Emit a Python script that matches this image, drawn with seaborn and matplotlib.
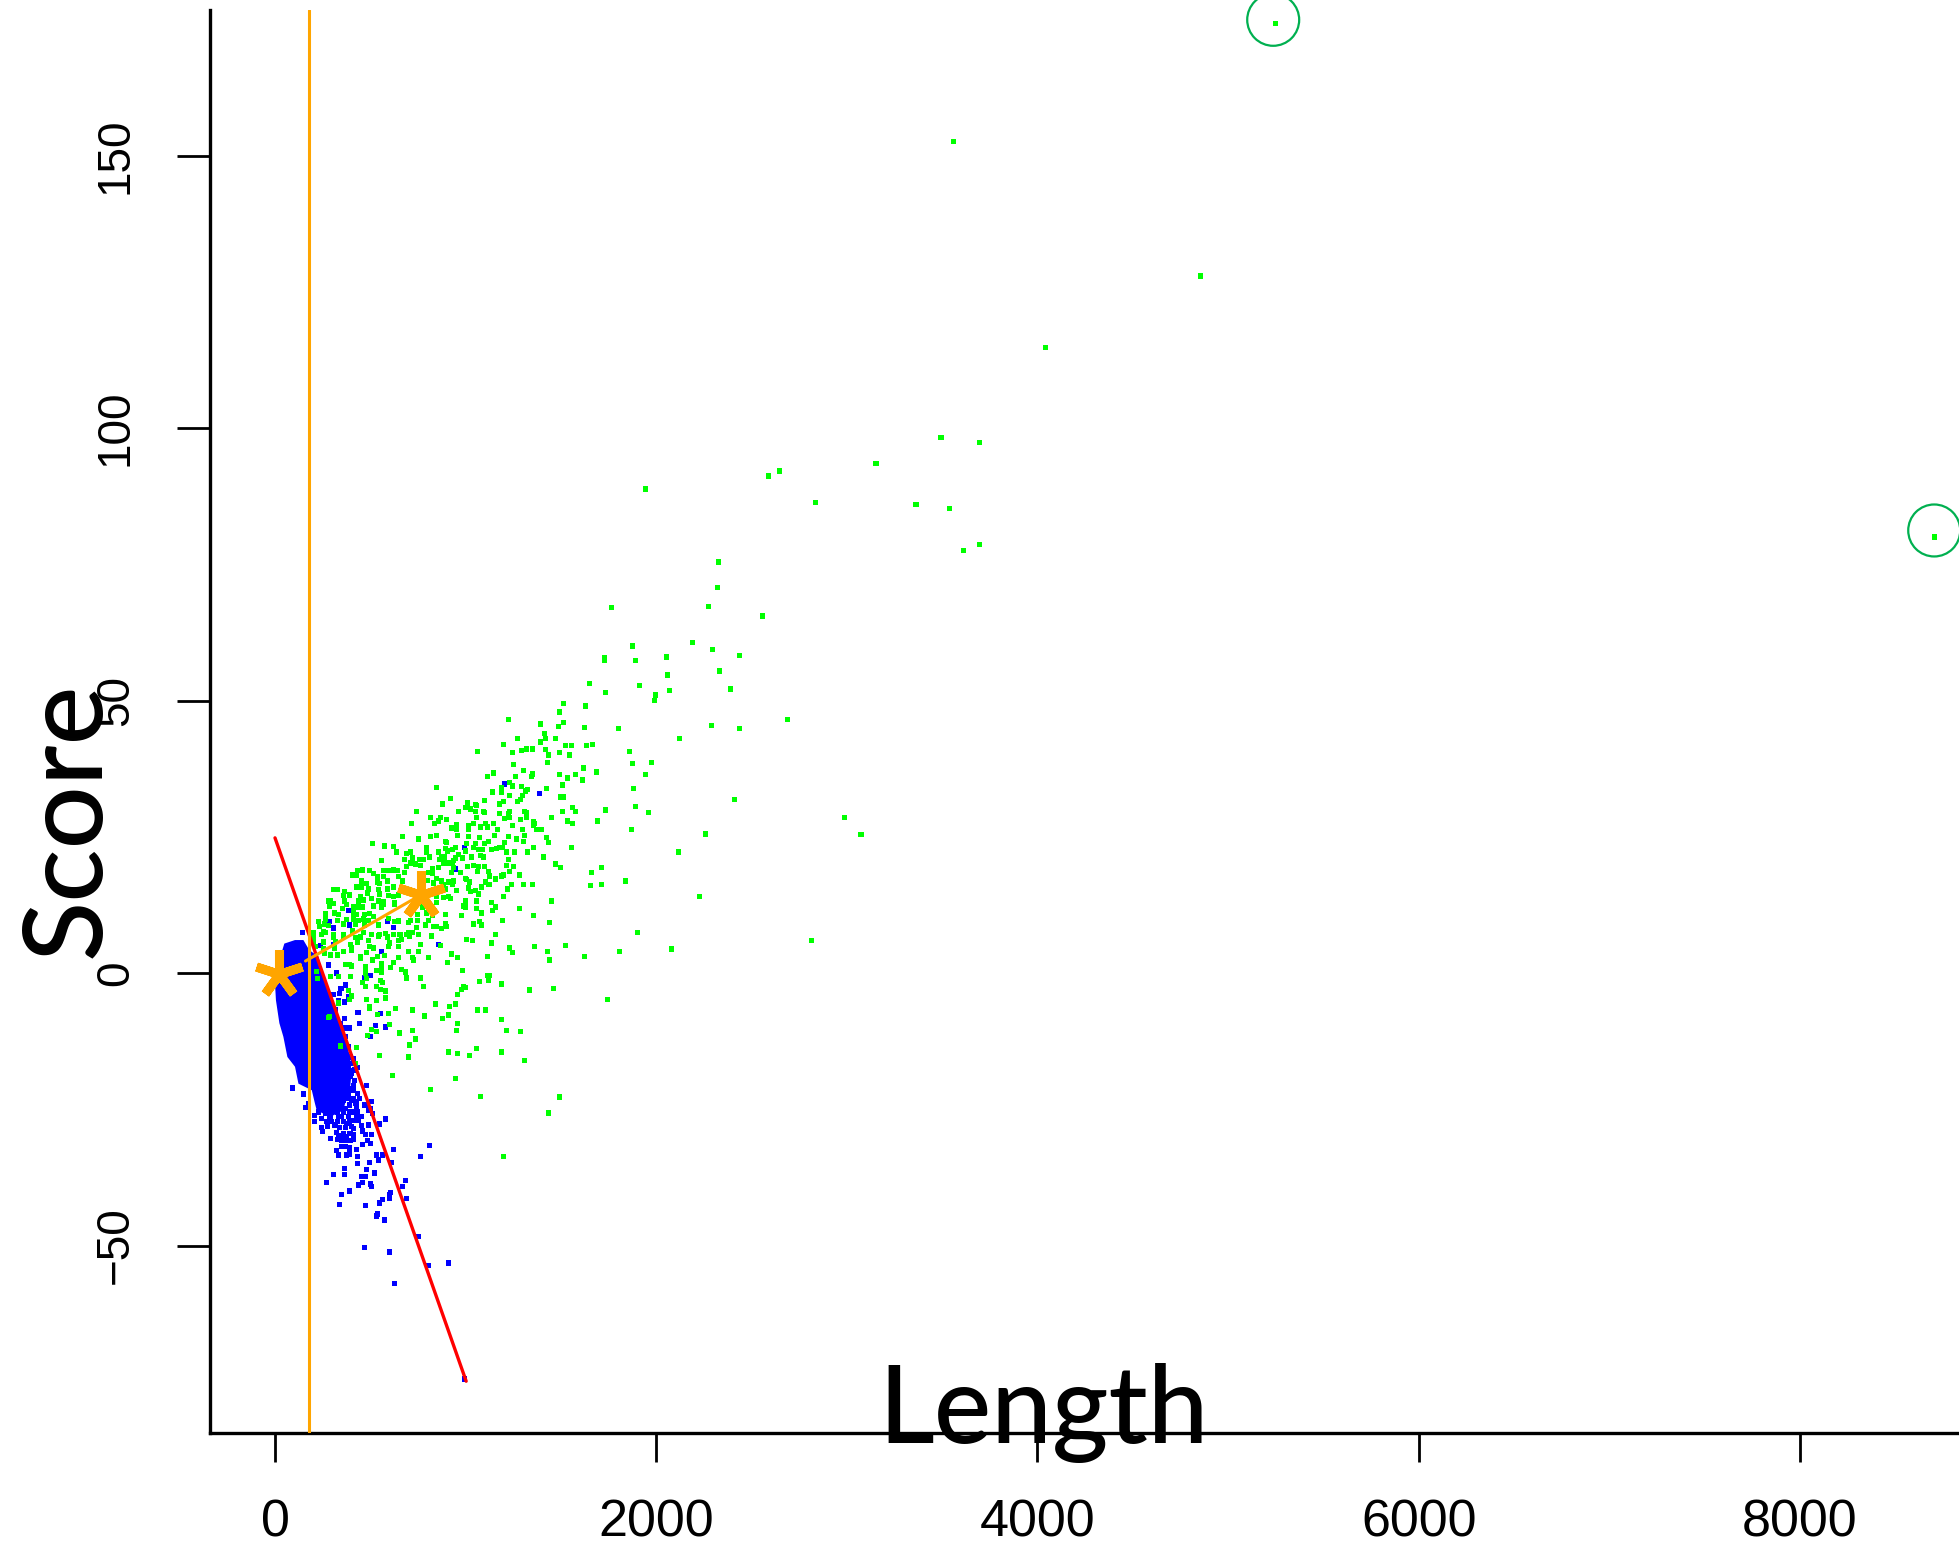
import matplotlib
matplotlib.use('Agg')
import matplotlib.pyplot as plt
from matplotlib.markers import MarkerStyle
import pandas as pd
import seaborn as sns

# (length, score)
green_points = [
    (5250,174.2),(8705,80),(3559,152.6),(4857,127.9),(4044,114.8),(3494,98.3),(3697,97.4),(3153,93.5),
    (2648,92.1),(2589,91.2),(1943,88.8),(2835,86.4),(3363,85.9),(3540,85.3),(3697,78.6),(3612,77.5),
    (2326,75.4),(2321,70.8),(1765,67),(2274,67.2),(2557,65.5),(1875,60),(2190,60.7),(2295,59.3),
    (1728,57.4),(1728,57.9),(1891,57.3),(2053,58),(2436,58.2),(2059,54.7),(2331,55.4),(3074,25.4),
    (1649,53.1),(1912,52.7),(1733,51.4),(2069,51.8),(2389,52.1),(1996,51),(1990,50),(1513,49.4),
    (1628,49),(1492,47.9),(1224,46.5),(2688,46.5),(1392,45.7),(1513,45.9),(1487,45.2),(1623,45),
    (1802,44.8),(2290,45.4),(2436,44.8),(1413,43.9),(1272,43),(1419,43.1),(1471,43.1),(2122,43.1),
    (1392,42.4),(1198,41.9),(1523,41.7),(1555,41.7),(1665,42),(1634,41.7),(1319,41.1),(1350,41.1),
    (1293,40.8),(1245,40.4),(1062,40.6),(1419,41),(1434,40),(1492,40.4),(1544,40),(1859,40.6),
    (1429,38.7),(1875,38.4),(1975,38.7),(1251,38.2),(1618,37.6),(1303,37.1),(1146,36.7),(1350,36.5),
    (1686,36.9),(1114,36),(1261,36),(1345,36),(1492,36.4),(1534,35.8),(1576,36.4),(1613,35.4),
    (1943,36.4),(1508,34.5),(1230,34.9),(1245,34.3),(1188,34),(1293,34.2),(1424,33.8),(1880,33.8),
    (1324,33.6),(1314,33.4),(847,34),(1140,33.2),(1188,33.1),(1230,32.5),(1298,32.5),(1497,32.3),
    (1513,32.3),(920,32),(2410,31.8),(1287,31.8),(1272,31.4),(1098,31.6),(878,31),(1009,31.2),
    (1051,30.9),(1057,30.7),(1198,31.4),(1177,31),(999,30.3),(1025,30.1),(962,29.6),(742,29.6),
    (1051,29.6),(1093,29.6),(1098,29.4),(1177,29.2),(1230,29.6),(1224,29.2),(1308,29.7),(1319,29.4),
    (1319,28.6),(1508,29.6),(1560,30.3),(1576,29.7),(1733,29.9),(1891,30.5),(1959,29.4),(2987,28.5),
    (1450,28.6),(1057,28.5),(1230,28.6),(1203,28.3),(1287,28.1),(815,28.6),(868,28.6),(899,28.1),
    (857,27.9),(715,27.5),(836,27.4),(1041,27.5),(1104,27.5),(1146,27.4),(1356,27.7),(1361,27.5),
    (1534,27.9),(1560,27.4),(1691,27.9),(1245,27),(1356,27),(952,27.2),(1015,27),(1077,26.8),
    (1114,26.8),(929,26.6),(952,26.4),(1015,26.4),(1167,26.4),(1398,26.4),(1371,26.3),(1298,26.3),
    (1870,26.4),(957,25.3),(847,25.3),(668,25),(752,24.6),(817,25),(1015,25),(1072,24.8),
    (1151,25.3),(1224,25),(1308,25.3),(1266,24.6),(1424,24.8),(2258,25.5),(1303,24.1),(1434,23.9),
    (894,24.2),(899,23.9),(1004,23.7),(1051,23.7),(1119,24.2),(1098,23.7),(1203,23.9),(794,23.1),
    (1177,23.1),(1193,23),(1356,23),(1555,23.1),(894,22.8),(946,23),(1041,23),(1067,22.6),
    (1161,22.8),(1088,22.6),(1135,22.6),(904,22.4),(931,22.6),(999,22.4),(794,22.2),(857,22.2),
    (710,22.2),(689,22),(1214,22.2),(1256,22.2),(1324,22.2),(2116,22.2),(962,21.7),(1077,21.5),
    (1093,21.3),(1030,21.3),(873,21.3),(810,21.3),(721,21.1),(889,21.3),(946,21.1),(983,21.1),
    (1408,21.3),(862,20.8),(679,20.8),(757,20.8),(778,20.8),(1224,20.8),(936,20.6),(883,20.2),
    (910,20.2),(931,20.2),(1471,20),(710,20.2),(736,20),(1041,19.8),(1214,19.8),(1251,19.6),
    (1009,19.5),(1067,19.6),(1098,19.5),(691,19.5),(763,19.8),(857,19.3),(826,19.1),(936,19.3),
    (1497,19.3),(1712,19.3),(1062,18.7),(1119,18.7),(1230,18.6),(679,18.4),(805,18.4),(826,18.2),
    (925,18.4),(973,18.4),(1660,18.4),(1282,18),(1125,17.8),(1198,18),(1188,17.8),(999,17.4),
    (1156,17.4),(1004,17.1),(1156,17.1),(668,16.9),(1838,16.9),(873,16.9),(847,17.4),(799,17),
    (831,16.5),(910,16.7),(936,16.9),(1020,16.7),(1104,16.7),(931,16.3),(1125,16.3),(883,16.3),
    (1119,16.2),(1240,16.2),(1303,16.2),(1350,16.2),(1655,16),(1712,16.2),(1083,15.8),(1015,15.6),
    (894,15.4),(952,15.2),(1219,15.4),(1051,15.1),(1025,14.9),(1067,14.5),(910,14),(883,13.8),
    (1198,14),(920,13.6),(2227,14),(847,14.1),(999,13.2),(1057,13.2),(1450,13.2),(847,13),
    (1135,12.9),(987,12.3),(1156,12.1),(999,12.1),(1057,11.8),(1282,11.8),(1140,11.4),(773,12.1),
    (1083,11),(894,10.8),(794,11),(747,10.8),(826,10.5),(978,10.5),(1356,10.5),(747,9.6),
    (710,9.6),(805,9.6),(1193,9.6),(1072,9.4),(1440,9.2),(1041,9),(1083,8.8),(894,9),
    (899,8.6),(789,8.8),(700,9.2),(847,8.6),(831,8.5),(742,8.3),(873,8.1),(721,7.5),
    (1901,7.5),(700,7.5),(689,7),(752,7),(820,6.8),(1156,7),(705,6.8),(1004,6.2),
    (1036,5.9),(2814,5.9),(665,6.1),(1135,5.5),(763,5.3),(1524,5.1),(1361,4.8),(868,5),
    (1230,4.6),(2080,4.4),(1429,4),(1807,4),(700,4),(752,4),(1245,3.7),(925,3.5),
    (1114,3.1),(1623,3.1),(957,2.8),(805,2.9),(721,2.9),(726,2.4),(1440,2.4),(904,2),
    (983,0.4),(684,0.2),(665,0.6),(689,-0.9),(763,-0.9),(1114,-0.5),(1125,-0.5),(1072,-1.5),
    (1119,-1.3),(778,-2.4),(1188,-2),(988,-2.4),(999,-2.6),(978,-3),(1335,-3.1),(1461,-2.8),
    (957,-4),(1744,-4.8),(841,-5.7),(946,-5.7),(915,-6.2),(721,-6.8),(1062,-6.8),(1104,-6.8),
    (784,-7.9),(910,-7.7),(878,-8.3),(1188,-8.6),(957,-9.2),(721,-10.5),(952,-10.6),(1214,-10.5),
    (1287,-10.8),(736,-12.1),(705,-13.2),(1057,-13.8),(910,-14.5),(957,-14.7),(1188,-14.5),(700,-15.4),
    (1020,-15.2),(1308,-16),(946,-19.3),(1491,-22.7),(1434,-25.7),(1197,-33.6),(816,-21.3),(1078,-22.6),
    (1492,-22.8),
    (511,23.7),(574,23.3),(621,23.2),(637,22.2),(558,20.6),(459,18.9),(432,18.8),(406,18),
    (427,18),(495,18.8),(516,18.2),(537,17.7),(569,18.8),(595,18.8),(621,18.9),(569,17.7),
    (642,18.8),(648,17.7),(453,16.9),(480,16.4),(537,16.7),(548,16.4),(590,16.9),(621,15.8),
    (427,15.8),(453,15.8),(490,15.4),(590,15.4),(306,15.3),(327,15.3),(366,14.9),(390,14.3),
    (359,14.2),(485,14.7),(543,15.3),(548,14.5),(595,14.2),(621,14),(648,14.3),(448,14),
    (438,13.2),(464,13.4),(506,13.6),(543,13.2),(569,13.1),(627,12.9),(280,13.2),(291,13.2),
    (307,12.7),(286,12.3),(364,13.2),(375,12.5),(354,11.8),(411,12.1),(438,12.1),(459,12.1),
    (516,12.3),(558,12.1),(569,12.5),(627,12.5),(265,10.9),(312,11),(333,10.7),(411,11),
    (427,10.7),(469,10.7),(495,10.9),(516,10.3),(595,10),(648,9.6),(265,9.9),(327,9.6),
    (375,9.8),(411,9.9),(438,9.6),(464,9.9),(490,9.6),(228,9.4),(258,9),(233,8.5),
    (280,8.7),(359,9),(422,9),(469,8.8),(543,8.8),(627,9.4),(648,9.4),(202,7.4),
    (254,7.6),(265,7.4),(307,7),(359,7),(408,7.7),(464,7.4),(506,7),(548,7),
    (579,7.2),(621,7),(656,7),(202,6.6),(244,7),(307,6.6),(359,6.8),(422,6.5),
    (448,6.6),(543,6.8),(590,6.6),(202,5.7),(254,5.7),(317,5.8),(396,5.3),(432,5.7),
    (490,5.9),(600,5.5),(648,6),(212,4.8),(254,4.5),(312,4.6),(401,4.6),(495,4.8),
    (516,4.6),(595,4.8),(648,4.8),(259,3.6),(291,3.3),(327,3.3),(359,3.9),(401,4.1),
    (448,3.1),(480,3.7),(537,3.1),(574,3.2),(648,2.8),(448,2.6),(511,2.4),(621,1.9),
    (558,1.7),(370,1.6),(390,1.6),(401,1.3),(474,1.1),(558,1.3),(606,1),(532,0.5),
    (474,0),(558,0.2),(217,0.3),(222,-1),(291,-0.7),(333,-0.7),(396,-0.6),(480,-1),
    (553,-1.3),(564,-1.7),(459,-1.8),(474,-2.5),(532,-2.4),(553,-3),(579,-3.3),(385,-3.2),
    (401,-4.2),(390,-4.8),(480,-4.8),(532,-5),(579,-4.6),(333,-5.5),(495,-6.1),(495,-6.5),
    (632,-6.5),(537,-7.6),(595,-7.4),(286,-8),(280,-8.1),(600,-9.4),(506,-10.3),(532,-10.7),
    (653,-11),(485,-11.4),(343,-13.4),(427,-13.6),(548,-15.1),(422,-16.6),(616,-18.8),
]

blue_points = [
    (1203,34.7),(1387,33),(994,23.1),(946,19.1),(857,5.3),(385,11.5),(307,8.2),(287,9.4),
    (390,8.8),(590,9.5),(621,8.4),(558,4),(280,1.4),(322,0),(469,-0.9),(500,-0.4),
    (238,5.1),(305,5.3),(343,-2.8),(553,-7.5),(432,-7.2),(443,-9.2),(527,-9.6),(579,-9.9),
    (501,-11.6),(144,7.5),(306,8.3),(91,-21.1),(149,-22.2),(163,-24.7),(175,-24),(207,-26.1),
    (207,-27.3),(243,-28.4),(248,-29.1),(275,-28.2),(290,-30.4),(322,-29.3),(327,-30.6),(348,-31.9),
    (332,-33.4),(322,-32.5),(374,-33.4),(390,-32.1),(390,-33.2),(427,-32.4),(432,-33.7),(432,-35),
    (364,-35.8),(306,-36.9),(364,-37),(270,-38.5),(479,-36.1),(495,-34.8),(521,-36.7),(542,-34.3),
    (532,-33.4),(563,-33.4),(621,-32.4),(611,-34.7),(763,-33.7),(810,-31.7),(453,-37.4),(474,-37.4),
    (458,-38.5),(437,-38.9),(500,-38.7),(506,-39.2),(390,-40),(348,-40.7),(605,-40.2),(600,-40.7),
    (600,-41.3),(563,-41.6),(689,-41.3),(668,-39.2),(684,-38.1),(579,-26.8),(548,-27.7),(511,-25.8),
    (506,-23.6),(479,-20.7),(490,-27.9),(453,-28),(506,-29.7),(474,-29.7),(458,-29),(411,-29.7),
    (485,-30.8),(500,-31.3),(458,-31.5),(411,-30.6),(374,-30),(358,-30),(348,-30.8),(369,-31.9),
    (432,-25.5),(411,-25.5),(453,-26.4),(427,-26.4),(385,-26.4),(358,-27.3),(390,-27.3),(327,-27.3),
    (296,-27.3),(369,-28.4),(338,-28.4),(289,-26.4),(264,-25.8),(411,-21.5),(385,-22.1),(432,-22.1),
    (411,-23),(443,-23),(390,-24.2),(422,-23.9),(369,-24.9),(327,-25.5),(358,-23.3),(306,-23.3),
    (374,-20.3),(416,-19.7),(327,-20.7),(338,-22.1),(390,-17.9),(411,-16.3),(432,-17.3),(327,-16.3),
    (364,-15.7),(385,-13.5),(437,-7.2),(390,-10.1),(369,-10.1),(322,-10.8),(364,-8.3),(364,-5.3),
    (332,-5),(270,-4.6),(306,-3.9),(338,-3.7),(348,-2.8),(369,-2.2),(385,-4.4),(280,1.5),
    (337,-42.4),(474,-42.6),(547,-42.2),(531,-44.6),(537,-44.2),(573,-45.3),(752,-48.4),(468,-50.3),
    (600,-51.2),(804,-53.6),(909,-53.2),(626,-56.9),(993,-74.5),
    (228,-23.3),(254,-24.2),(280,-25.5),(306,-24.6),(332,-26.4),(359,-25.5),(228,-25.5),(245,-26.7),
    (271,-27.3),(315,-27.9),(350,-26.4),(394,-25.5),(411,-27),(437,-27),(402,-28.2),(376,-27.6),
    (411,-28.5),(429,-24.6),(402,-23.3),(429,-23.6),(385,-23),(367,-21.8),(394,-21.2),(411,-20.6),
    (394,-19),(376,-18.7),(402,-18.4),(420,-17.8),(402,-16.6),(394,-15.4),(411,-15.7),(376,-15.4),
    (367,-13.5),(350,-12.3),(367,-11.7),(332,-10.8),(341,-9.3),(306,-8.6),(315,-6.8),(289,-5.6),
    (306,-6.5),(359,-29.5),(394,-29.5),(332,-29.8),(367,-30.7),(394,-30.7),(350,-30),(472,-24.2),
    (499,-24.9),(490,-25.2),
]

# dense part of the blue cloud, outline
core_length = [49,105,149,180,228,254,289,327,367,394,402,394,376,359,289,219,210,193,123,105,65,44,23,5,0,23]
core_score = [5.4,6.05,6.05,4.2,3,-0.7,-4.4,-8,-11.7,-15.4,-18.4,-20.9,-22.7,-25.2,-26.4,-25.2,-24,-21.5,-20.3,-17.2,-15.4,-11.7,-9.2,-5,-1.9,2.4]

# green points with a circle around them
circled_length = [5237, 8705]
circled_score = [174.9, 81.2]

# centres and the lines between them
centre_length = [23, 764]
centre_score = [-0.2, 14.3]
link_length = [160, 764]
link_score = [2.2, 14.3]
cut_length = [0, 1003]
cut_score = [24.8, -74.9]
vline_length = 176

x_ticks = [0, 2000, 4000, 6000, 8000]
y_ticks = [-50, 0, 50, 100, 150]

sns.set_theme(style='ticks')
plt.rcParams['font.family'] = ['Liberation Sans', 'DejaVu Sans']

points = pd.DataFrame(blue_points + green_points, columns=['length', 'score'])
points['group'] = ['blue'] * len(blue_points) + ['green'] * len(green_points)

fig = plt.figure(figsize=(19.59, 15.46), dpi=100)
ax = fig.add_axes([210/1959, 113/1546, 1749/1959, 1423/1546])

ax.fill(core_length, core_score, color='#0000ff', lw=0, zorder=1)
sns.scatterplot(data=points, x='length', y='score', hue='group', palette={'blue': '#0000ff', 'green': '#00ff00'},
                marker='s', s=14, linewidth=0, legend=False, ax=ax, zorder=2)
ax.scatter(circled_length, circled_score, s=1400, facecolors='none', edgecolors='#00b050', linewidths=1.6, clip_on=False, zorder=3)

ax.plot(cut_length, cut_score, color='#ff0000', lw=2.4, zorder=4)
ax.axvline(vline_length, color='#ffa500', lw=2.2, zorder=4)
ax.plot(link_length, link_score, color='#ffa500', lw=2.2, zorder=4)
ax.plot(centre_length, centre_score, linestyle='none', marker=MarkerStyle((5, 2, 0), capstyle='butt'), ms=34.6,
        mew=6.5, color='#ffa500', zorder=5)

ax.set_xlim(-341, 8835)
ax.set_ylim(-84.4, 176.7)
ax.set_xticks(x_ticks)
ax.set_yticks(y_ticks)
ax.set_xlabel('')
ax.set_ylabel('')
sns.despine(ax=ax)
for side in ['left', 'bottom']:
    ax.spines[side].set_linewidth(2.4)
    ax.spines[side].set_color('black')
ax.tick_params(axis='x', length=21, width=2, labelsize=37.5, color='black', labelcolor='black', pad=26)
ax.tick_params(axis='y', length=24, width=2, labelsize=33, color='black', labelcolor='black', pad=28)
plt.setp(ax.get_yticklabels(), rotation=90, va='center')

fig.text(1044/1959, 103/1546, 'Length', fontsize=78, family='Lato', fontweight='medium', ha='center', va='baseline', color='black')
fig.text(100/1959, 726/1546, 'Score', fontsize=80, family='Lato', fontweight='medium', rotation=90, ha='center', va='baseline',
         rotation_mode='anchor', color='black')

fig.savefig('out.png', dpi=100)
